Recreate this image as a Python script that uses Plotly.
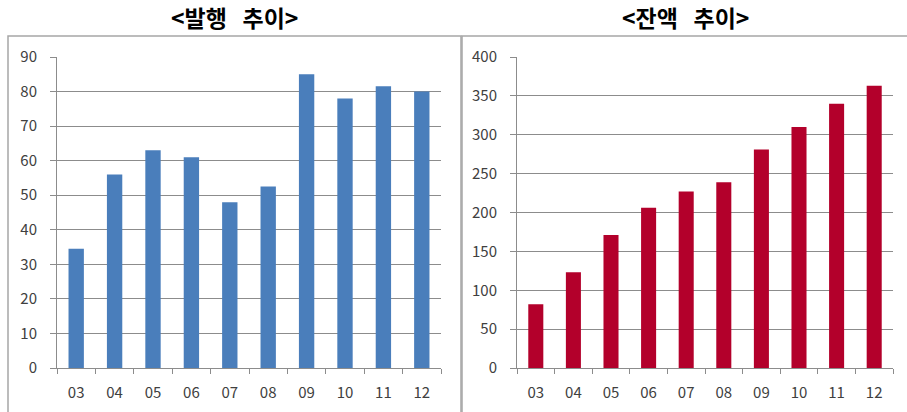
import plotly.graph_objects as go

# Year labels (2003-2012) shared by both panels
years = ["03", "04", "05", "06", "07", "08", "09", "10", "11", "12"]

# Annual issuance
issuance = [34.5, 56, 63, 61, 48, 52.5, 85, 78, 81.5, 80]

# Outstanding balance
balance = [82, 123, 171, 206, 227, 239, 281, 310, 340, 363]

left_ticks = list(range(0, 100, 10))
right_ticks = list(range(0, 450, 50))

W, H = 907, 412
FONT = "Noto Sans CJK KR"
GRID = "#8c8c8c"
AXIS = "#8c8c8c"
TXT = "#404040"


def px_x(p):
    return p / W


def px_y(p):
    return 1 - p / H


fig = go.Figure()

fig.add_trace(go.Bar(x=years, y=issuance, marker=dict(color="#4A7EBB", line=dict(width=0)),
                     xaxis="x", yaxis="y", showlegend=False))
fig.add_trace(go.Bar(x=years, y=balance, marker=dict(color="#B3002B", line=dict(width=0)),
                     xaxis="x2", yaxis="y2", showlegend=False))

common_x = dict(
    type="category", showgrid=False, showline=True, linecolor=AXIS, linewidth=1,
    ticks="outside", tickson="boundaries", ticklen=5, tickcolor=AXIS,
    tickfont=dict(family=FONT, size=15, color=TXT), ticklabelstandoff=11,
    range=[-0.5, 9.5], fixedrange=True, automargin=False,
)
common_y = dict(
    showgrid=True, gridcolor=GRID, gridwidth=1, showline=True, linecolor=AXIS, linewidth=1,
    ticks="outside", ticklen=6, tickcolor=AXIS, zeroline=False, automargin=False,
    tickfont=dict(family=FONT, size=15, color=TXT), ticklabelstandoff=10,
)

fig.update_layout(
    width=W, height=H, margin=dict(l=0, r=0, t=0, b=0, autoexpand=False),
    paper_bgcolor="white", plot_bgcolor="white",
    bargap=0.6, barmode="group",
    xaxis=dict(common_x, domain=[px_x(57), px_x(441)], anchor="y"),
    yaxis=dict(common_y, domain=[px_y(368), px_y(57)], anchor="x",
               range=[0, 90], tickvals=left_ticks),
    xaxis2=dict(common_x, domain=[px_x(517), px_x(893)], anchor="y2"),
    yaxis2=dict(common_y, domain=[px_y(368), px_y(57)], anchor="x2",
                range=[0, 400], tickvals=right_ticks),
    shapes=[
        dict(type="rect", xref="paper", yref="paper",
             x0=px_x(8), x1=px_x(461), y0=px_y(414), y1=px_y(36),
             line=dict(color="#a6a6a6", width=1.5), layer="below"),
        dict(type="rect", xref="paper", yref="paper",
             x0=px_x(462), x1=px_x(910), y0=px_y(414), y1=px_y(36),
             line=dict(color="#a6a6a6", width=1.5), layer="below"),
    ],
    annotations=[
        dict(text="<b>&lt;발행&nbsp;&nbsp;&nbsp;추이&gt;</b>", x=px_x(234), y=px_y(17),
             xref="paper", yref="paper", showarrow=False, xanchor="center", yanchor="middle",
             font=dict(family=FONT, size=23, color="#000000")),
        dict(text="<b>&lt;잔액&nbsp;&nbsp;&nbsp;추이&gt;</b>", x=px_x(685), y=px_y(17),
             xref="paper", yref="paper", showarrow=False, xanchor="center", yanchor="middle",
             font=dict(family=FONT, size=23, color="#000000")),
    ],
)

fig.write_html("out.html")
